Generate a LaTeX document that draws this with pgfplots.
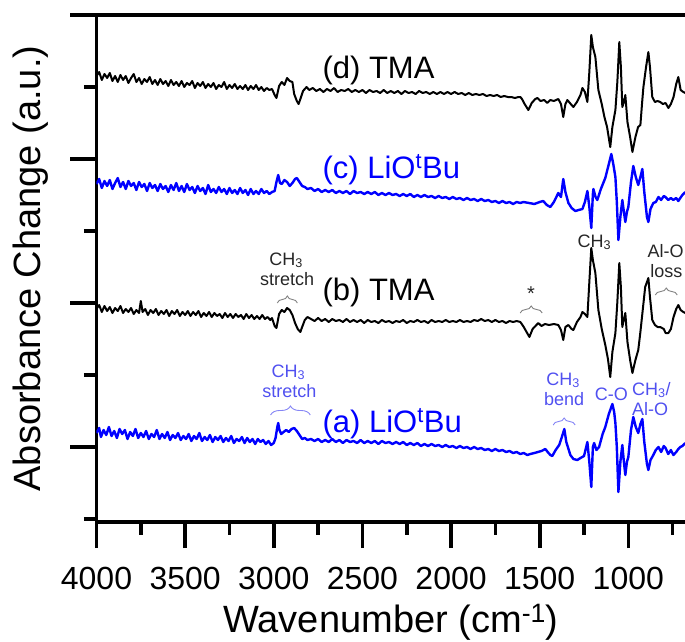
\documentclass[border=0pt]{standalone}
\usepackage{fontspec}
\setmainfont{Liberation Sans}
\usepackage{pgfplots}
\pgfplotsset{compat=1.18}
\usepackage{pgfplotstable}
\usetikzlibrary{decorations.pathreplacing}
\definecolor{specblue}{RGB}{0,0,255}
\definecolor{annblue}{RGB}{80,80,240}
\definecolor{anngray}{RGB}{130,130,130}

% (d) TMA
\pgfplotstableread{
wn y
4000 446
3985 450
3970 442
3955 448
3940 444
3925 449
3910 441
3895 446
3880 440
3865 447
3850 442
3835 446
3820 439
3805 444
3790 448
3775 440
3760 444
3745 438
3730 443
3715 440
3700 445
3685 438
3670 442
3655 437
3640 443
3625 438
3610 441
3595 436
3580 442
3565 437
3550 440
3535 436
3520 441
3505 435
3490 439
3475 437
3460 441
3445 434
3430 439
3415 436
3400 440
3385 434
3370 438
3355 435
3340 439
3325 433
3310 437
3295 435
3280 440
3265 433
3250 437
3235 434
3220 438
3205 433
3190 436
3175 433
3160 437
3145 432
3130 436
3115 433
3100 437
3085 432
3070 435
3055 431
3040 434
3025 432
3010 433
2995 427
2985 424
2970 436
2955 440
2940 437
2925 444
2910 441
2895 440
2885 428
2870 421
2860 418
2850 423
2835 431
2815 435
2800 432
2780 434
2760 431
2740 433
2720 430
2700 433
2680 431
2660 434
2640 430
2620 432
2600 431
2580 433
2560 430
2540 432
2520 430
2500 432
2480 429
2460 432
2440 430
2420 431
2400 429
2380 432
2360 429
2340 431
2320 429
2300 431
2280 428
2260 431
2240 429
2220 430
2200 428
2180 431
2160 429
2140 430
2120 428
2100 430
2080 428
2060 430
2040 428
2020 430
2000 428
1980 430
1960 428
1940 429
1920 427
1900 429
1880 427
1860 428
1840 427
1820 428
1800 426
1780 427
1760 426
1740 427
1720 425
1700 426
1680 425
1660 425
1640 424
1620 425
1609 425
1600 423
1585 418
1564 412
1545 419
1525 423
1513 424
1495 421
1475 422
1457 419
1440 422
1420 421
1395 423
1380 418
1367 405
1355 418
1344 422
1325 418
1310 415
1290 420
1270 427
1259 434
1245 430
1231 420
1220 450
1209 487
1200 475
1186 465
1169 432
1150 418
1135 405
1120 395
1102 375
1090 395
1073 412
1062 440
1051 480
1042 455
1034 415
1025 420
1017 427
1005 400
990 385
977 370
960 385
945 395
932 397
922 420
915 435
900 455
887 470
878 455
865 425
850 420
835 421
820 420
805 418
790 419
774 414
760 418
745 425
730 438
718 445
705 432
690 430
679 429
}\specD

% (c) LiOtBu
\pgfplotstableread{
wn y
4000 338
3985 343
3970 334
3955 341
3940 336
3925 342
3910 333
3895 339
3880 344
3865 335
3850 340
3835 333
3820 341
3805 336
3790 339
3775 332
3760 340
3745 335
3730 338
3715 331
3700 339
3685 334
3670 337
3655 331
3640 338
3625 333
3610 336
3595 330
3580 337
3565 332
3550 339
3535 331
3520 336
3505 330
3490 338
3475 332
3460 335
3445 329
3430 336
3415 331
3400 334
3385 328
3370 337
3355 330
3340 333
3325 329
3310 335
3295 330
3280 333
3265 328
3250 334
3235 329
3220 332
3205 328
3190 334
3175 329
3160 332
3145 327
3130 333
3115 328
3100 331
3085 328
3070 333
3055 329
3040 331
3025 328
3010 330
2995 331
2985 340
2975 347
2965 339
2955 338
2940 342
2925 340
2910 336
2895 339
2880 343
2870 344
2855 340
2840 336
2825 335
2810 333
2790 334
2770 331
2750 333
2730 330
2710 332
2690 330
2670 332
2650 329
2630 331
2610 329
2590 331
2570 328
2550 331
2530 329
2510 330
2490 328
2470 330
2450 328
2430 330
2410 327
2390 329
2370 327
2350 329
2330 327
2310 328
2290 326
2270 328
2250 326
2230 328
2210 325
2190 327
2170 325
2150 327
2130 325
2110 326
2090 324
2070 326
2050 324
2030 325
2010 323
1990 325
1970 323
1950 324
1930 322
1910 324
1890 322
1870 323
1850 321
1830 323
1810 321
1790 322
1770 320
1750 321
1730 319
1710 321
1690 319
1670 320
1650 318
1630 320
1610 319
1592 320
1560 319
1530 318
1500 320
1480 321
1460 317
1440 315
1420 320
1395 329
1380 325
1367 343
1355 330
1338 319
1320 314
1299 311
1280 312
1259 313
1245 320
1231 331
1220 315
1209 294
1200 328
1197 333
1185 325
1175 322
1155 333
1130 344
1110 358
1096 368
1085 358
1073 345
1065 320
1056 282
1045 305
1034 322
1025 310
1017 300
1008 310
1000 315
985 340
972 356
958 345
944 337
932 345
921 353
910 330
895 305
887 300
875 313
859 319
845 320
830 325
815 322
800 326
791 325
775 322
760 324
746 322
730 324
718 321
707 324
695 327
679 330
}\specC

% (b) TMA
\pgfplotstableread{
wn y
4000 213
3985 217
3970 210
3955 216
3940 211
3925 215
3910 209
3895 214
3880 211
3865 216
3850 209
3835 213
3820 210
3805 214
3790 208
3775 212
3760 209
3750 221
3740 210
3725 213
3710 207
3695 212
3680 209
3665 213
3650 207
3635 211
3620 208
3605 212
3590 206
3575 211
3560 208
3545 212
3530 206
3515 210
3500 207
3485 211
3470 206
3455 210
3440 207
3425 211
3410 205
3395 209
3380 206
3365 210
3350 205
3335 209
3320 206
3305 208
3290 204
3275 209
3260 205
3245 208
3230 204
3215 208
3200 205
3185 207
3170 203
3155 208
3140 204
3125 207
3110 203
3095 206
3080 203
3065 207
3050 203
3035 205
3020 202
3010 204
2995 196
2985 194
2970 208
2955 212
2940 210
2925 214
2910 212
2895 207
2880 199
2865 193
2850 190
2840 195
2825 202
2810 205
2790 203
2770 201
2750 204
2730 201
2710 203
2690 200
2670 203
2650 201
2630 202
2610 200
2590 203
2570 200
2550 202
2530 200
2510 202
2490 199
2470 202
2450 200
2430 201
2410 199
2390 202
2370 200
2350 201
2330 199
2310 201
2290 200
2270 202
2250 199
2230 201
2210 200
2190 202
2170 200
2150 201
2130 199
2110 202
2090 200
2070 201
2050 200
2030 202
2010 200
1990 201
1970 200
1950 202
1930 200
1910 201
1890 200
1870 202
1850 201
1830 203
1810 201
1790 202
1770 200
1750 202
1730 200
1710 201
1690 199
1670 201
1650 200
1630 201
1609 200
1590 195
1558 185
1540 193
1508 199
1490 196
1470 198
1447 197
1420 198
1395 197
1380 192
1367 182
1355 195
1338 197
1320 193
1310 192
1290 200
1270 205
1259 210
1245 208
1231 205
1220 240
1209 274
1200 262
1186 249
1169 212
1150 193
1130 177
1115 163
1102 145
1090 170
1073 189
1062 220
1051 259
1042 235
1034 195
1025 203
1017 209
1005 180
990 162
977 149
960 162
944 172
932 190
920 210
905 235
887 244
878 225
865 202
850 197
835 195
820 195
800 193
790 189
774 189
760 193
745 205
730 213
718 217
705 212
690 210
679 209
}\specB

% (a) LiOtBu
\pgfplotstableread{
wn y
4000 89
3985 94
3975 85
3960 92
3945 87
3930 95
3915 86
3900 91
3885 84
3870 93
3855 88
3840 92
3825 83
3810 90
3795 86
3780 93
3765 84
3750 89
3735 85
3720 91
3705 83
3690 88
3675 85
3660 92
3645 83
3630 88
3615 84
3600 90
3585 82
3570 87
3555 84
3540 89
3525 82
3510 86
3495 83
3480 88
3465 81
3450 86
3435 83
3420 89
3405 81
3390 85
3375 82
3360 87
3345 80
3330 85
3315 82
3300 86
3285 80
3270 84
3255 81
3240 86
3225 79
3210 83
3195 81
3180 85
3165 79
3150 84
3135 80
3120 83
3105 78
3090 83
3075 80
3060 82
3045 78
3030 81
3015 77
3000 79
2990 84
2980 95
2975 99
2968 92
2958 88
2945 90
2930 92
2915 90
2900 93
2885 94
2870 91
2855 87
2840 83
2825 84
2810 82
2790 83
2770 81
2750 83
2730 80
2710 82
2690 80
2670 83
2650 80
2630 82
2610 79
2590 82
2570 80
2550 81
2530 79
2510 82
2490 79
2470 81
2450 79
2430 81
2410 78
2390 81
2370 79
2350 80
2330 78
2310 80
2290 78
2270 80
2250 77
2230 79
2210 77
2190 79
2170 76
2150 78
2130 76
2110 78
2090 76
2070 77
2050 75
2030 77
2010 75
1990 76
1970 74
1950 76
1930 74
1910 75
1890 73
1870 75
1850 73
1830 74
1810 72
1790 73
1770 71
1750 73
1730 71
1710 72
1690 70
1670 71
1650 69
1630 70
1610 68
1590 69
1570 67
1553 68
1530 69
1510 70
1490 71
1468 73
1455 70
1440 67
1429 66
1410 72
1390 77
1375 85
1361 93
1350 80
1327 67
1310 63
1288 62
1270 64
1250 66
1231 80
1220 60
1209 35
1200 75
1193 79
1180 72
1165 75
1145 88
1130 95
1110 108
1090 118
1080 110
1073 99
1065 75
1056 30
1045 60
1034 77
1025 60
1017 47
1008 60
1000 65
985 92
972 105
958 95
944 89
932 98
921 103
910 80
895 58
887 52
875 62
859 67
845 72
830 75
815 70
800 76
790 74
775 68
760 72
746 67
730 70
718 73
707 75
695 76
679 79
}\specA

\begin{document}
\begin{tikzpicture}
\begin{axis}[
  at={(0,0)}, anchor=south west,
  scale only axis, width=591.4pt, height=507pt,
  xmin=-4000, xmax=-664, ymin=0, ymax=507,
  xtick={-4000,-3500,-3000,-2500,-2000,-1500,-1000},
  xticklabels={4000,3500,3000,2500,2000,1500,1000},
  minor xtick={-3750,-3250,-2750,-2250,-1750,-1250,-750},
  ytick={75,219,363,507}, yticklabels={},
  minor ytick={3,147,291,435},
  xtick pos=bottom, ytick pos=left,
  tick align=outside,
  major tick length=26pt, minor tick length=12.5pt,
  tick style={black, line width=3.6pt},
  axis line style={line width=3.6pt},
  xticklabel shift=16pt,
  xticklabel style={font=\fontsize{32}{38}\selectfont},
  xlabel={Wavenumber (cm\textsuperscript{-1})},
  xlabel style={at={(axis description cs:0.498,-0.2170)}, anchor=base, font=\fontsize{38}{44}\selectfont},
  ylabel={Absorbance Change (a.u.)},
  ylabel style={at={(axis description cs:-0.0955,0.5)}, anchor=base, font=\fontsize{38}{44}\selectfont},
]
\addplot[black, line width=2pt, line join=round] table[x expr={-\thisrowno{0}}, y index=1] {\specD};
\addplot[specblue, line width=2.4pt, line join=round] table[x expr={-\thisrowno{0}}, y index=1] {\specC};
\addplot[black, line width=2pt, line join=round] table[x expr={-\thisrowno{0}}, y index=1] {\specB};
\addplot[specblue, line width=2.4pt, line join=round] table[x expr={-\thisrowno{0}}, y index=1] {\specA};

% main labels
\node[font=\fontsize{31}{36}\selectfont, anchor=base west, inner sep=0pt] at (-2726,444) {(d) TMA};
\node[font=\fontsize{31}{36}\selectfont, anchor=base west, inner sep=0pt, text=specblue] at (-2726,344) {(c) LiO\textsuperscript{t}Bu};
\node[font=\fontsize{31}{36}\selectfont, anchor=base west, inner sep=0pt] at (-2726,222) {(b) TMA};
\node[font=\fontsize{31}{36}\selectfont, anchor=base west, inner sep=0pt, text=specblue] at (-2726,90) {(a) LiO\textsuperscript{t}Bu};

% small annotations
\node[font=\fontsize{18}{21}\selectfont, anchor=base, inner sep=0pt, text=black!85] at (-2930,257) {CH\textsubscript{3}};
\node[font=\fontsize{18}{21}\selectfont, anchor=base, inner sep=0pt, text=black!85] at (-2925,237) {stretch};
\draw[anngray, line width=0.9pt, decorate, decoration={brace, amplitude=7pt}] (-2980,219) -- (-2867,219);

\node[font=\fontsize{18}{21}\selectfont, anchor=base, inner sep=0pt, text=annblue] at (-2918,145) {CH\textsubscript{3}};
\node[font=\fontsize{18}{21}\selectfont, anchor=base, inner sep=0pt, text=annblue] at (-2912,125) {stretch};
\draw[annblue!70, line width=0.9pt, decorate, decoration={brace, amplitude=9pt}] (-3018,107) -- (-2794,107);

\node[font=\fontsize{20}{22}\selectfont, anchor=center, inner sep=0pt, text=black!85] at (-1549,228) {*};
\draw[anngray, line width=0.9pt, decorate, decoration={brace, amplitude=7pt}] (-1610,209) -- (-1486,209);

\node[font=\fontsize{18}{21}\selectfont, anchor=base, inner sep=0pt, text=black!85] at (-1192,275) {CH\textsubscript{3}};

\node[font=\fontsize{18}{21}\selectfont, anchor=base, inner sep=0pt, text=black!85] at (-790,265) {Al-O};
\node[font=\fontsize{18}{21}\selectfont, anchor=base, inner sep=0pt, text=black!85] at (-785,245) {loss};
\draw[anngray, line width=0.9pt, decorate, decoration={brace, amplitude=7pt}] (-848,227) -- (-724,227);

\node[font=\fontsize{18}{21}\selectfont, anchor=base, inner sep=0pt, text=annblue] at (-1368,137) {CH\textsubscript{3}};
\node[font=\fontsize{18}{21}\selectfont, anchor=base, inner sep=0pt, text=annblue] at (-1362,117) {bend};
\draw[annblue!70, line width=0.9pt, decorate, decoration={brace, amplitude=7pt}] (-1424,97) -- (-1300,97);

\node[font=\fontsize{18}{21}\selectfont, anchor=base, inner sep=0pt, text=annblue] at (-1096,122) {C-O};
\node[font=\fontsize{18}{21}\selectfont, anchor=base west, inner sep=0pt, text=annblue] at (-980,127) {CH\textsubscript{3}/};
\node[font=\fontsize{18}{21}\selectfont, anchor=base west, inner sep=0pt, text=annblue] at (-980,107) {Al-O};
\end{axis}
\pgfresetboundingbox
\path[use as bounding box] (-96.5pt,-119pt) rectangle (588.5pt,522pt);
\end{tikzpicture}
\end{document}
